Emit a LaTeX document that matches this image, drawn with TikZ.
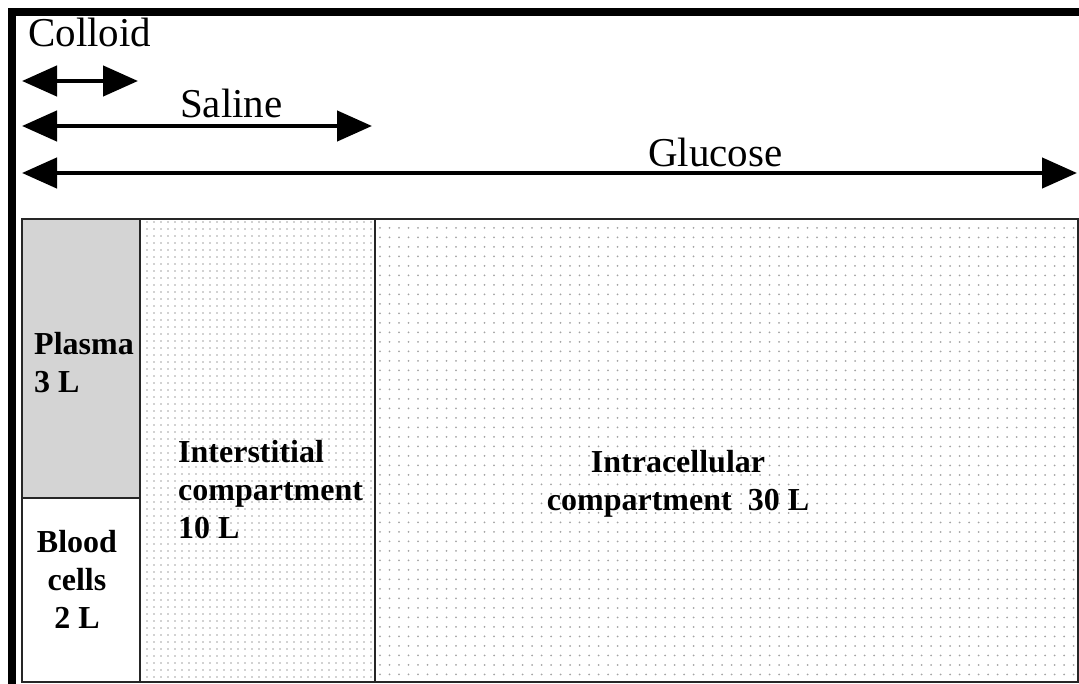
\documentclass[tikz,border=0pt]{standalone}
\usepackage{fontspec}
\setmainfont{Liberation Serif}
\usepackage{tikz}
\usetikzlibrary{arrows.meta,patterns.meta}
\definecolor{dotGray}{HTML}{A4A4A4}
\definecolor{plasmaGray}{HTML}{D4D4D4}

\begin{document}
\begin{tikzpicture}[x=1pt,y=-1pt,
    fluid/.style={line width=4.5pt,
      {Triangle[length=35pt,width=30pt]}-{Triangle[length=35pt,width=30pt]}},
    compbox/.style={draw=black!85,line width=1.6pt,anchor=north west,inner sep=0pt},
    head/.style={font=\fontsize{41}{41}\selectfont,anchor=base west,inner sep=0pt},
    lbl/.style={font=\fontsize{32}{38}\selectfont\bfseries,anchor=base west,inner sep=0pt}]
  \useasboundingbox (0,0) rectangle (1079,684);
  % frame
  \draw[line width=8pt] (11.5,684) -- (11.5,12) -- (1079,12);

  % fluid ranges
  \node[head] (colloid) at (28,47) {Colloid};
  \node[head] (saline) at (180,118) {Saline};
  \node[head] (glucose) at (648,167) {Glucose};
  \coordinate (colL) at (22,81);
  \coordinate (colR) at (138,81);
  \coordinate (salL) at (22,126);
  \coordinate (salR) at (372,126);
  \coordinate (gluL) at (22,173);
  \coordinate (gluR) at (1077,173);
  \draw[fluid] (colL) -- (colR);
  \draw[fluid] (salL) -- (salR);
  \draw[fluid] (gluL) -- (gluR);

  % compartments
  \node[compbox,fill=plasmaGray,minimum width=118pt,minimum height=279pt] (plasma) at (21,218) {};
  \node[compbox,minimum width=118pt,minimum height=184pt] (blood) at (21,497) {};
  \node[compbox,pattern={Dots[distance=7pt,radius=0.8pt]},pattern color=dotGray,
        minimum width=235pt,minimum height=463pt] (inter) at (139,218) {};
  \node[compbox,pattern={Dots[distance=9.5pt,radius=1pt]},pattern color=dotGray,
        minimum width=703pt,minimum height=463pt] (intra) at (374,218) {};

  % labels (base = last line)
  \node[lbl,align=left] (plasmaTxt) at (34,393) {Plasma\\3 L};
  \node[lbl,align=center,anchor=base] (bloodTxt) at (77,628) {Blood\\cells\\2 L};
  \node[lbl,align=left] (interTxt) at (178,538) {Interstitial\\compartment\\10 L};
  \node[lbl,align=center,anchor=base] (intraTxt) at (678,510) {Intracellular\\compartment~~30 L};
\end{tikzpicture}
\end{document}
